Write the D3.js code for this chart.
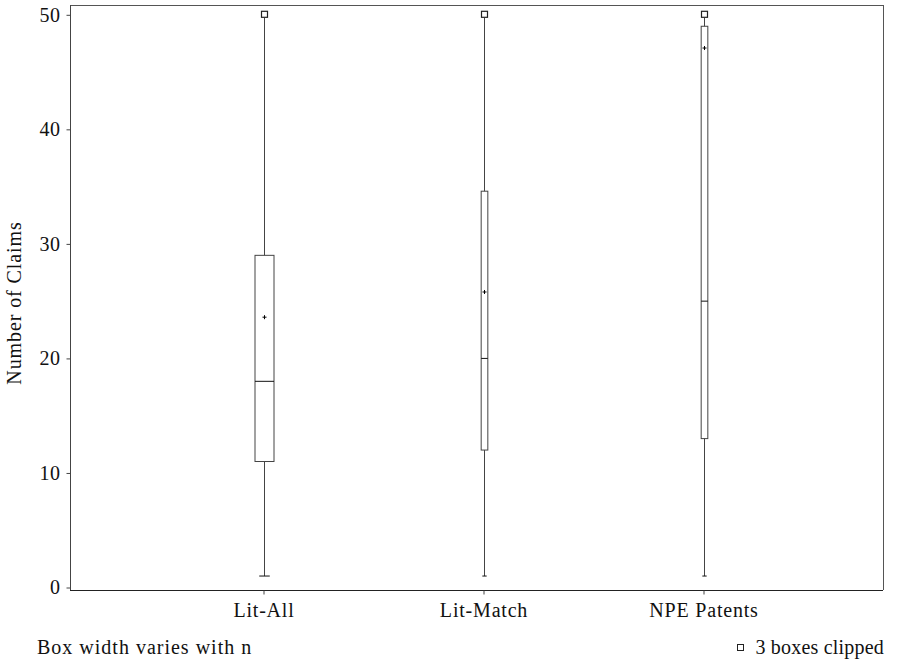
<!DOCTYPE html>
<html><head><meta charset="utf-8">
<script src="https://cdn.jsdelivr.net/npm/d3@7"></script>
<style>body{margin:0;background:#fff}svg{display:block}text{font-family:"Liberation Serif","DejaVu Serif",serif;fill:#111}</style>
</head><body><svg id="c" width="904" height="662"></svg>
<script>
const categories = ["Lit-All", "Lit-Match", "NPE Patents"];
const whiskerLow = [1, 1, 1];
const q1 = [11, 12, 13];
const median = [18, 20, 25];
const q3 = [29, 34.6, 49];
const whiskerHigh = [50, 50, 50];
const meanVal = [23.6, 25.8, 47.1];
const clipped = [true, true, true];
const relN = [1, 0.35, 0.35];
const yTicks = [0, 10, 20, 30, 40, 50];

const svg = d3.select("#c");
const L = 70, R = 883, T = 5, B = 590;
const x = d3.scalePoint().domain(categories).range([263.5, 703.5]);
const y = d3.scaleLinear().domain([0, 50]).range([587.5, 14.8]);
const w = d3.scaleLinear().domain([0, 1]).range([0, 19]);
const FS = "20px";

// frame
svg.append("line").attr("x1", L).attr("x2", R).attr("y1", T + 0.5).attr("y2", T + 0.5).attr("stroke", "#555");
svg.append("line").attr("x1", R + 0.5).attr("x2", R + 0.5).attr("y1", T).attr("y2", B).attr("stroke", "#555");

// axes
const ya = svg.append("g").attr("transform", `translate(${L + 0.5},0)`)
  .call(d3.axisLeft(y).tickValues(yTicks).tickSize(4).tickPadding(6).tickSizeOuter(0));
ya.select(".domain").attr("d", `M0,${T}V${B}`).attr("stroke", "#444");
ya.selectAll(".tick line").attr("stroke", "#444");
ya.selectAll("text").style("font-family", '"Liberation Serif",serif').style("font-size", FS).style("letter-spacing", "0.5px").attr("fill", "#111");

const xa = svg.append("g").attr("transform", `translate(0,${B + 0.5})`)
  .call(d3.axisBottom(x).tickSize(4).tickPadding(8).tickSizeOuter(0));
xa.select(".domain").attr("d", `M${L},0H${R}`).attr("stroke", "#222");
xa.selectAll(".tick line").attr("stroke", "#444");
xa.selectAll("text").style("font-family", '"Liberation Serif",serif').style("font-size", FS).style("letter-spacing", "0.8px").attr("fill", "#111");

// y label
svg.append("text").attr("transform", "translate(21,303) rotate(-90)").attr("text-anchor", "middle")
  .style("font-size", FS).style("letter-spacing", "0.9px").text("Number of Claims");

// boxes
categories.forEach((c, i) => {
  const cx = Math.round(x(c)) + 0.5;
  const bw = w(relN[i]);
  const g = svg.append("g").attr("stroke", "#333").attr("fill", "none");
  g.append("line").attr("x1", cx).attr("x2", cx).attr("y1", y(q3[i])).attr("y2", y(whiskerHigh[i]) + 3).attr("stroke", "#444");
  g.append("line").attr("x1", cx).attr("x2", cx).attr("y1", y(q1[i])).attr("y2", y(whiskerLow[i])).attr("stroke", "#444");
  g.append("line").attr("x1", cx - bw / 4 - 0.5).attr("x2", cx + bw / 4 + 0.5).attr("y1", y(whiskerLow[i])).attr("y2", y(whiskerLow[i])).attr("stroke", "#111");
  g.append("rect").attr("x", cx - bw / 2).attr("y", y(q3[i])).attr("width", bw).attr("height", y(q1[i]) - y(q3[i])).attr("stroke", "#444");
  g.append("line").attr("x1", cx - bw / 2).attr("x2", cx + bw / 2).attr("y1", y(median[i])).attr("y2", y(median[i])).attr("stroke", "#111");
  const my = y(meanVal[i]);
  g.append("path").attr("d", `M${cx - 2},${my}H${cx + 2}M${cx},${my - 2}V${my + 2}`).attr("stroke", "#000");
  if (clipped[i]) {
    g.append("rect").attr("x", cx - 3).attr("y", y(whiskerHigh[i]) - 3.5).attr("width", 6).attr("height", 6)
      .attr("fill", "#fff").attr("stroke", "#222").attr("stroke-width", 1.2);
  }
});

// footnotes
svg.append("text").attr("x", 37).attr("y", 654).style("font-size", FS).style("letter-spacing", "1px").text("Box width varies with n");
const clipCount = clipped.filter(d => d).length;
svg.append("text").attr("x", 884).attr("y", 654).attr("text-anchor", "end").style("font-size", FS).style("letter-spacing", "0.2px").text(clipCount + " boxes clipped");
svg.append("rect").attr("x", 737.5).attr("y", 644.5).attr("width", 6).attr("height", 6).attr("fill", "#fff").attr("stroke", "#222");
</script></body></html>
